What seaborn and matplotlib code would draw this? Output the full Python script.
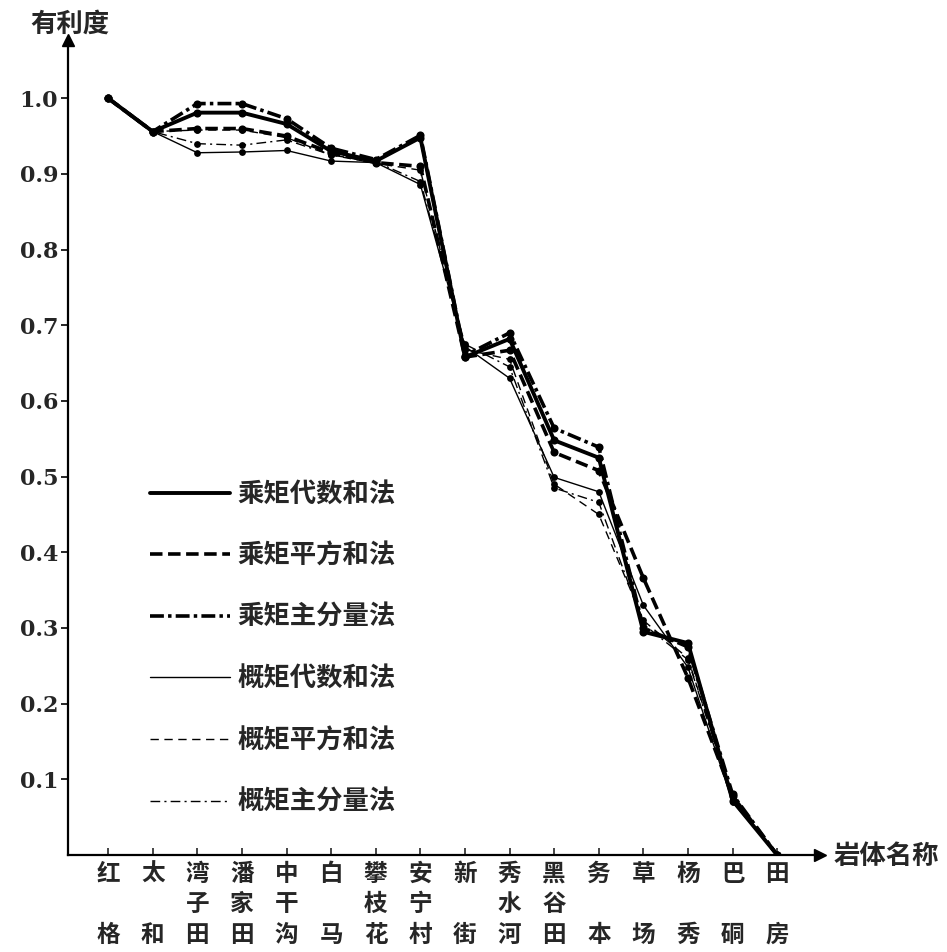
import numpy as np
import pandas as pd
import matplotlib
matplotlib.use("Agg")
import matplotlib.pyplot as plt
import seaborn as sns

sns.set_style("white")
plt.rcParams['font.family'] = ['Noto Sans CJK SC', 'DejaVu Sans']
plt.rcParams['lines.scale_dashes'] = False

# ---------------- data ----------------
categories = ["红格", "太和", "湾子田", "潘家田", "中干沟", "白马", "攀枝花", "安宁村",
              "新街", "秀水河", "黑谷田", "务本", "草场", "杨秀", "巴硐", "田房"]

s_cheng_daishu = [1.0, 0.956, 0.981, 0.981, 0.966, 0.930, 0.917, 0.948,
                  0.658, 0.682, 0.548, 0.525, 0.295, 0.280, 0.072, 0.0]
s_cheng_pingfang = [1.0, 0.956, 0.960, 0.960, 0.950, 0.928, 0.915, 0.910,
                    0.658, 0.667, 0.532, 0.508, 0.366, 0.234, 0.078, 0.0]
s_cheng_zhufen = [1.0, 0.956, 0.993, 0.993, 0.973, 0.934, 0.919, 0.951,
                  0.660, 0.690, 0.564, 0.539, 0.300, 0.275, 0.080, 0.0]
s_gai_daishu = [1.0, 0.956, 0.928, 0.929, 0.931, 0.917, 0.915, 0.886,
                0.672, 0.630, 0.499, 0.480, 0.330, 0.248, 0.070, 0.0]
s_gai_pingfang = [1.0, 0.956, 0.958, 0.958, 0.948, 0.925, 0.914, 0.905,
                  0.668, 0.655, 0.490, 0.450, 0.310, 0.260, 0.075, 0.0]
s_gai_zhufen = [1.0, 0.956, 0.940, 0.938, 0.945, 0.925, 0.916, 0.890,
                0.675, 0.645, 0.485, 0.466, 0.305, 0.258, 0.075, 0.0]

series_names = ["乘矩代数和法", "乘矩平方和法", "乘矩主分量法",
                "概矩代数和法", "概矩平方和法", "概矩主分量法"]
series_values = [s_cheng_daishu, s_cheng_pingfang, s_cheng_zhufen,
                 s_gai_daishu, s_gai_pingfang, s_gai_zhufen]

y_ticks = [0.1, 0.2, 0.3, 0.4, 0.5, 0.6, 0.7, 0.8, 0.9, 1.0]
y_tick_labels = ["0.1", "0.2", "0.3", "0.4", "0.5", "0.6", "0.7", "0.8", "0.9", "1.0"]

# ---------------- styles ----------------
styles = [
    dict(linewidth=2.8, linestyle="-"),
    dict(linewidth=2.6, linestyle=(0, (9, 4))),
    dict(linewidth=2.6, linestyle=(0, (10, 3, 2.5, 3))),
    dict(linewidth=1.0, linestyle="-"),
    dict(linewidth=1.0, linestyle=(0, (6, 4))),
    dict(linewidth=1.0, linestyle=(0, (7, 3, 1.5, 3))),
]
marker_sizes = [34, 34, 34, 24, 24, 24]

fig = plt.figure(figsize=(9.47, 9.52), dpi=100)
ax = fig.add_axes([68 / 947, 1 - 855 / 952, (820 - 68) / 947, (855 - 40) / 952])

x = np.arange(len(categories))
for name, vals, st, ms in zip(series_names, series_values, styles, marker_sizes):
    df = pd.DataFrame({"x": x, "y": vals})
    sns.lineplot(data=df, x="x", y="y", ax=ax, color="black", label=name,
                 estimator=None, sort=False, **st)
    sns.scatterplot(data=df, x="x", y="y", ax=ax, color="black", s=ms,
                    edgecolor="black", linewidth=0, legend=False, zorder=5)

ax.set_xlim(-0.9, 15.96)
ax.set_ylim(0, 1.077)

for side in ["top", "right"]:
    ax.spines[side].set_visible(False)
for side in ["left", "bottom"]:
    ax.spines[side].set_linewidth(1.6)
    ax.spines[side].set_color("black")

# arrowheads
ax.plot(1, 0, marker=">", color="black", ms=9, transform=ax.transAxes, clip_on=False)
ax.plot(0, 1, marker="^", color="black", ms=9, transform=ax.transAxes, clip_on=False)

ax.set_yticks(y_ticks)
ax.set_yticklabels(y_tick_labels, family="DejaVu Serif", fontweight="bold", fontsize=16)
ax.tick_params(axis="y", direction="out", length=5, width=1.4, pad=2, left=True)

xlabels = []
for c in categories:
    if len(c) == 2:
        xlabels.append(c[0] + "\n\n" + c[1])
    else:
        xlabels.append("\n".join(c))
ax.set_xticks(x)
ax.set_xticklabels(xlabels, fontsize=17, fontweight="bold", linespacing=1.34, va="top")
ax.tick_params(axis="x", direction="in", length=5, width=1.2, pad=5, bottom=True)

ax.set_xlabel("")
ax.set_ylabel("")

fig.text(70 / 947, 1 - 24 / 952, "有利度", fontsize=19, fontweight="bold",
         ha="center", va="center")
fig.text(886 / 947, 1 - 856 / 952, "岩体名称", fontsize=19, fontweight="bold",
         ha="center", va="center")

leg = ax.legend(loc="upper left", bbox_to_anchor=(0.109, 0.459), frameon=False,
                borderpad=0, borderaxespad=0, handlelength=3.05, handletextpad=0.25,
                labelspacing=1.31, prop={"size": 19, "weight": "bold",
                                        "family": ["Noto Sans CJK SC", "DejaVu Sans"]})

fig.savefig("out.png", dpi=100, facecolor="white")
